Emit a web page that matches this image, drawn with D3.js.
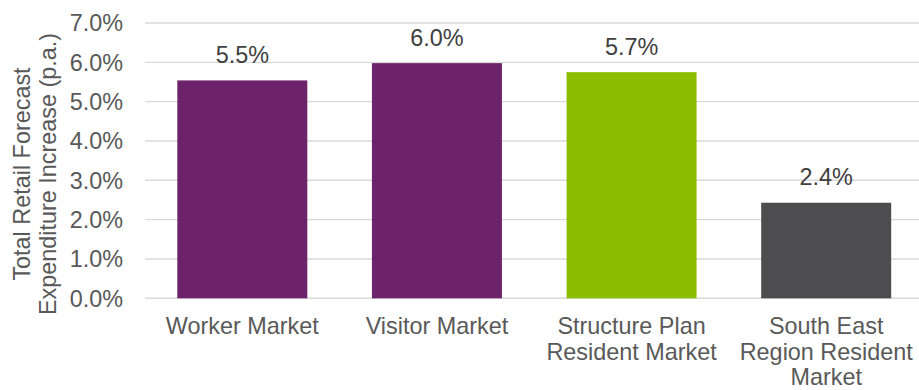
<!DOCTYPE html>
<html><head><meta charset="utf-8">
<script src="https://cdn.jsdelivr.net/npm/d3@7"></script>
<style>body{margin:0;background:#fff}svg{display:block;font-family:"Liberation Sans",Arial,sans-serif}</style>
</head><body>
<svg id="c" width="919" height="390"></svg>
<script>
const categories = [["Worker Market"],["Visitor Market"],["Structure Plan","Resident Market"],["South East","Region Resident","Market"]];
const values = [5.54, 5.98, 5.75, 2.43];
const labels = ["5.5%","6.0%","5.7%","2.4%"];
const colors = ["#6c2369","#6c2369","#8cbd00","#4d4d4f"];
const ticks = [0,1,2,3,4,5,6,7];

const svg = d3.select("#c");
const fs = 23.4;
const x = d3.scaleBand().domain(d3.range(categories.length)).range([145, 923.5]).paddingInner(0.332).paddingOuter(0.166);
const y = d3.scaleLinear().domain([0,7]).range([298.3, 23]);

// gridlines
svg.append("g").selectAll("line").data(ticks).join("line")
  .attr("x1",145).attr("x2",919).attr("y1",d=>y(d)).attr("y2",d=>y(d))
  .attr("stroke","#d9d9d9").attr("stroke-width",1.4);

// y tick labels
svg.append("g").selectAll("text").data(ticks).join("text")
  .attr("x",123).attr("y",d=>y(d)).attr("dy","0.36em").attr("text-anchor","end")
  .attr("font-size",fs).attr("fill","#595959").text(d=>d.toFixed(1)+"%");

// bars
svg.append("g").selectAll("rect").data(values).join("rect")
  .attr("x",(d,i)=>x(i)).attr("width",x.bandwidth())
  .attr("y",d=>y(d)).attr("height",d=>y(0)-y(d)).attr("fill",(d,i)=>colors[i]);

// data labels
svg.append("g").selectAll("text").data(values).join("text")
  .attr("x",(d,i)=>x(i)+x.bandwidth()/2).attr("y",d=>y(d)-17.3)
  .attr("text-anchor","middle").attr("font-size",fs).attr("fill","#404040")
  .text((d,i)=>labels[i]);

// category labels
const cg = svg.append("g").selectAll("text").data(categories).join("text")
  .attr("text-anchor","middle").attr("font-size",fs).attr("fill","#595959")
  .attr("transform",(d,i)=>`translate(${x(i)+x.bandwidth()/2},334)`);
cg.selectAll("tspan").data(d=>d).join("tspan")
  .attr("x",0).attr("y",(d,j)=>j*25.5).text(d=>d);

// y axis title
const t = svg.append("text").attr("transform","translate(0,174) rotate(-90)")
  .attr("text-anchor","middle").attr("font-size",fs).attr("fill","#595959");
t.append("tspan").attr("x",0).attr("y",29.5).text("Total Retail Forecast");
t.append("tspan").attr("x",0).attr("y",55.5).text("Expenditure Increase (p.a.)");
</script>
</body></html>
